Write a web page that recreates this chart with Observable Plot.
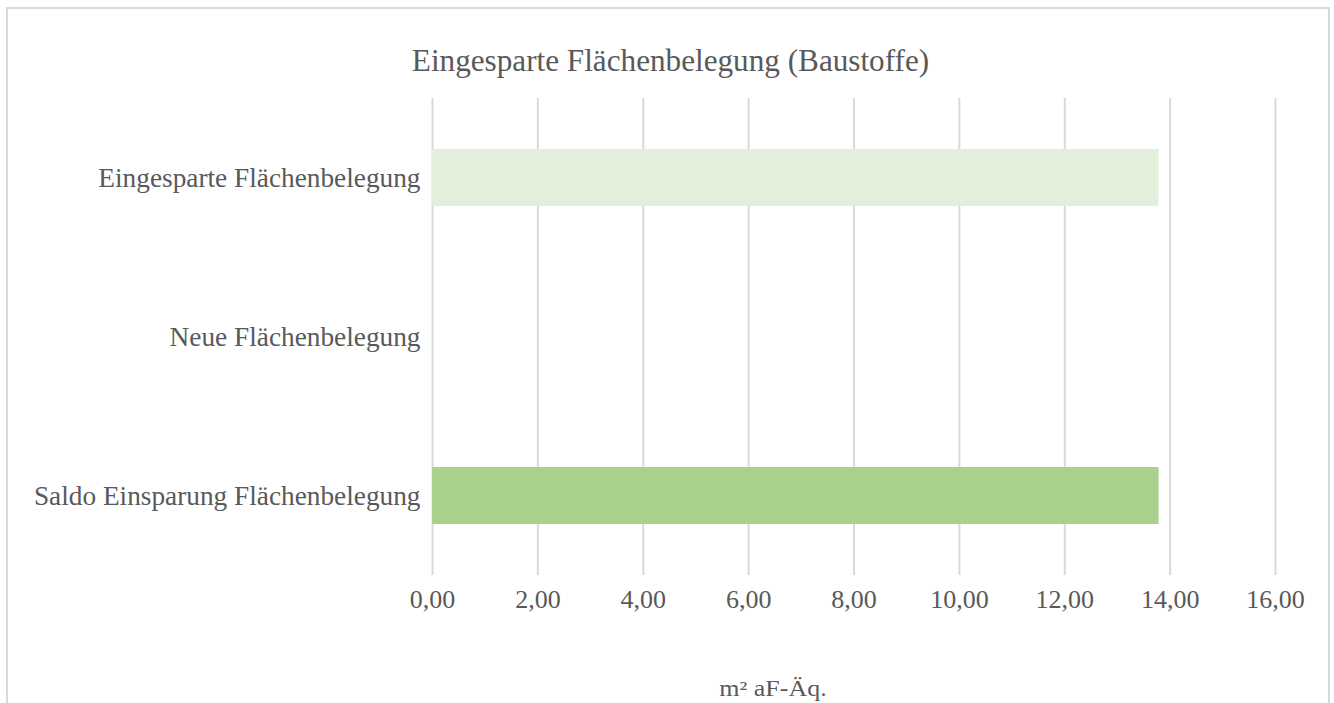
<!DOCTYPE html>
<html>
<head>
<meta charset="utf-8">
<script src="https://cdn.jsdelivr.net/npm/d3@7"></script>
<script src="https://cdn.jsdelivr.net/npm/@observablehq/plot@0.6"></script>
<style>
  html, body { margin: 0; padding: 0; background: #fff; }
  #wrap { position: relative; width: 1334px; height: 703px; overflow: hidden; font-family: "Liberation Serif", serif; color: #595959; }
  #frame { position: absolute; left: 6px; top: 7px; width: 1324px; height: 760px; border: 2px solid #D9D9D9; box-sizing: border-box; }
  #title { position: absolute; left: 0; width: 1341px; top: 43px; text-align: center; font-size: 31.2px; line-height: 36px; color: #595959; }
  #xlabel { position: absolute; left: 583px; width: 380px; top: 672px; text-align: center; font-size: 26px; line-height: 30px; color: #595959; transform: scaleY(0.85); transform-origin: 50% 100%; }
  #chart { position: absolute; left: 0; top: 0; }
</style>
</head>
<body>
<div id="wrap">
  <div id="frame"></div>
  <div id="chart"></div>
  <div id="title">Eingesparte Flächenbelegung (Baustoffe)</div>
  <div id="xlabel">m² aF-Äq.</div>
</div>
<script>
const categories = ["Eingesparte Flächenbelegung", "Neue Flächenbelegung", "Saldo Einsparung Flächenbelegung"];
const values = [13.79, 0, 13.79];
const barColors = ["#E2EFDA", "#FFFFFF", "#A9D18E"];
const xTicks = [0, 2, 4, 6, 8, 10, 12, 14, 16];

const data = categories.map((c, i) => ({category: c, value: values[i], color: barColors[i]}));

const chart = Plot.plot({
  width: 1334,
  height: 703,
  marginLeft: 432,
  marginRight: 59,
  marginTop: 98,
  marginBottom: 128,
  style: {fontFamily: "Liberation Serif, serif", color: "#595959", background: "transparent"},
  x: {domain: [0, 16], ticks: xTicks},
  y: {domain: categories, paddingInner: 0.64, paddingOuter: 0.32},
  marks: [
    Plot.gridX(xTicks, {stroke: "#D9D9D9", strokeOpacity: 1, strokeWidth: 2}),
    Plot.barX(data.filter(d => d.value > 0), {x: "value", y: "category", fill: "color"}),
    Plot.axisX(xTicks, {
      tickSize: 0, tickPadding: 14, fontSize: 26, fill: "#595959", label: null,
      tickFormat: d => d.toFixed(2).replace(".", ",")
    }),
    Plot.axisY({tickSize: 0, tickPadding: 12, fontSize: 27.3, fill: "#595959", label: null})
  ]
});
document.getElementById("chart").appendChild(chart);
</script>
</body>
</html>
